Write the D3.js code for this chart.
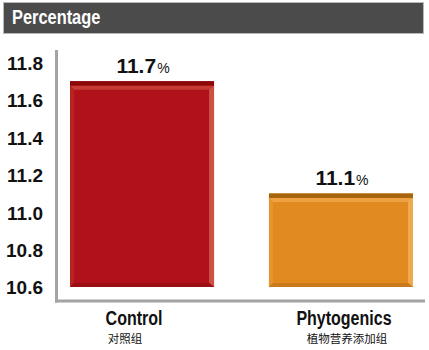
<!DOCTYPE html>
<html>
<head>
<meta charset="utf-8">
<script src="https://cdn.jsdelivr.net/npm/d3@7"></script>
<style>
  html, body { margin: 0; padding: 0; background: #fff; }
  svg { display: block; }
</style>
</head>
<body>
<svg id="chart" width="429" height="350"></svg>
<script>
const title = "Percentage";
const categories = ["Control", "Phytogenics"];
const categoriesZh = ["对照组", "植物营养添加组"];
const values = [11.7, 11.1];
const valueLabels = ["11.7", "11.1"];
const yTicks = [10.6, 10.8, 11.0, 11.2, 11.4, 11.6, 11.8];

const palette = [
  { main: "#b1111a", band: "#8a0808", top: "#c33b33", left: "#b8221f", right: "#cb5242", bottom: "#9c0d14" },
  { main: "#e08a20", band: "#a8650f", top: "#eea244", left: "#e59430", right: "#f1a94f", bottom: "#cb7a1b" }
];

const svg = d3.select("#chart");
const sans = "'Liberation Sans', Arial, sans-serif";

// narrow text helper (condensed look)
function narrowText(parent, x, y, txt, size, anchor, sx) {
  return parent.append("text")
    .attr("transform", `translate(${x},${y}) scale(${sx},1)`)
    .attr("text-anchor", anchor)
    .attr("font-family", sans).attr("font-weight", "bold").attr("font-size", size)
    .text(txt);
}

// header
svg.append("rect").attr("x", 3.5).attr("y", 2.5).attr("width", 420).attr("height", 31)
  .attr("fill", "#4b4b4b").attr("stroke", "#b8b8b8").attr("stroke-width", 1);
narrowText(svg, 12, 24, title, 20, "start", 0.82).attr("fill", "#fff");

const y = d3.scaleLinear().domain([10.6, 11.8]).range([287, 62.5]);
const x = d3.scaleBand().domain(categories).range([70, 413]).paddingInner(0.276).paddingOuter(0);

// y tick labels via axis
const yAxis = d3.axisLeft(y).tickValues(yTicks).tickFormat(d3.format(".1f")).tickSize(0).tickPadding(0);
const gy = svg.append("g").attr("transform", "translate(43,0)").call(yAxis);
gy.select(".domain").remove();
gy.selectAll("text")
  .attr("font-family", sans).attr("font-weight", "bold").attr("font-size", 19)
  .attr("fill", "#111").attr("dy", "0.36em").attr("x", 0);

// bars
const bars = svg.append("g");
categories.forEach((c, i) => {
  const x0 = x(c), x1 = x(c) + x.bandwidth();
  const yT = y(values[i]), yB = y(10.6);
  const col = palette[i];
  const bandH = 4.5, b = 4;
  const g = bars.append("g");
  g.append("rect").attr("x", x0).attr("y", yT).attr("width", x1 - x0).attr("height", yB - yT).attr("fill", col.main);
  g.append("rect").attr("x", x0).attr("y", yT).attr("width", x1 - x0).attr("height", bandH).attr("fill", col.band);
  const t = yT + bandH;
  const poly = (pts, fill) => g.append("polygon").attr("points", pts.map(p => p.join(",")).join(" ")).attr("fill", fill);
  poly([[x0, t], [x1, t], [x1 - b, t + b], [x0 + b, t + b]], col.top);
  poly([[x0, t], [x0 + b, t + b], [x0 + b, yB - b], [x0, yB]], col.left);
  poly([[x1, t], [x1, yB], [x1 - b - 1, yB - b], [x1 - b - 1, t + b]], col.right);
  poly([[x0, yB], [x0 + b, yB - b], [x1 - b - 1, yB - b], [x1, yB]], col.bottom);

  // value label
  const lbl = g.append("text").attr("x", x0 + x.bandwidth() / 2 + 1).attr("y", yT - 8.5)
    .attr("text-anchor", "middle").attr("fill", "#111").attr("font-family", sans);
  lbl.append("tspan").attr("font-weight", "bold").attr("font-size", 21).text(valueLabels[i]);
  lbl.append("tspan").attr("font-size", 14).attr("dx", 1).text("%");
});

// axes lines
const axisCol = "#a3a3a3";
svg.append("line").attr("x1", 56.5).attr("x2", 56.5).attr("y1", 50).attr("y2", 302.5)
  .attr("stroke", axisCol).attr("stroke-width", 3);
svg.append("line").attr("x1", 55).attr("x2", 425).attr("y1", 301).attr("y2", 301)
  .attr("stroke", axisCol).attr("stroke-width", 3);

// category labels
const dxs = [-8, 3];
const dzs = [-17, 6];
categories.forEach((c, i) => {
  const cx = x(c) + x.bandwidth() / 2;
  narrowText(svg, cx + dxs[i], 325, c, 20, "middle", 0.8).attr("fill", "#111");
  svg.append("text").attr("x", cx + dzs[i]).attr("y", 343)
    .attr("text-anchor", "middle").attr("font-family", "'Noto Sans CJK SC', sans-serif")
    .attr("font-size", 11.5).attr("fill", "#111").text(categoriesZh[i]);
});
</script>
</body>
</html>
